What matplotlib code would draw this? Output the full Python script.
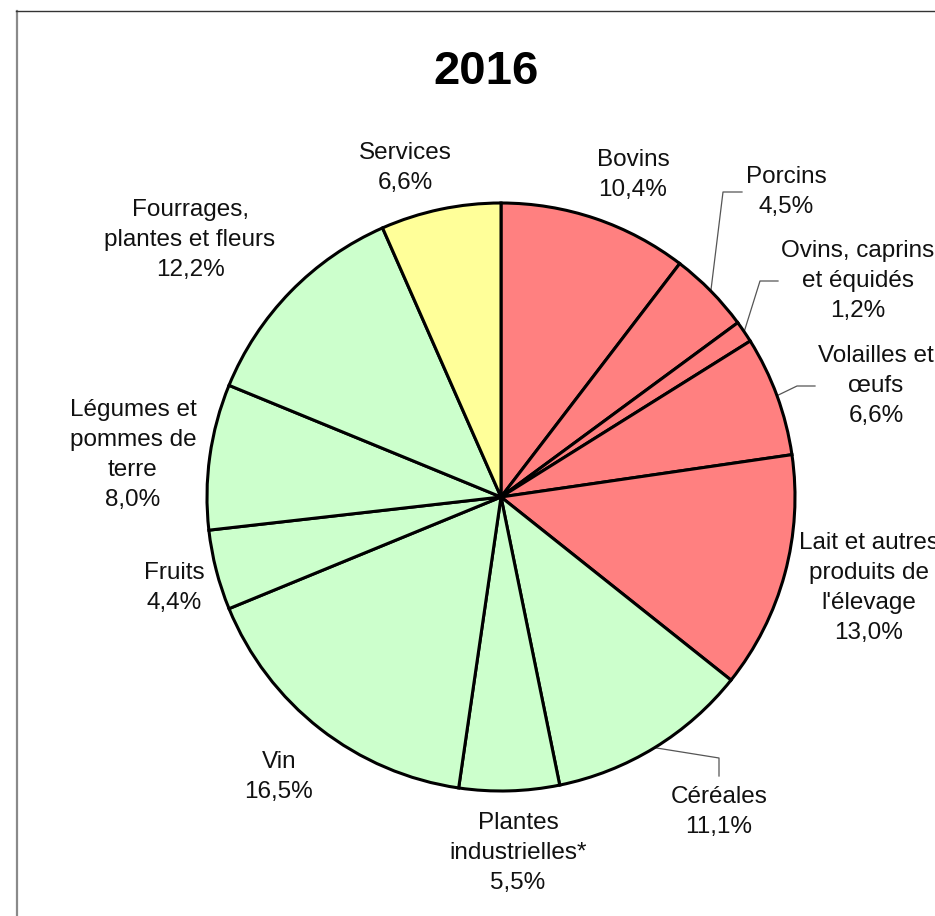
import matplotlib
matplotlib.use("Agg")
import matplotlib.pyplot as plt
import numpy as np
from matplotlib.lines import Line2D

categories = ["Bovins", "Porcins", "Ovins, caprins\net équidés", "Volailles et\nœufs",
              "Lait et autres\nproduits de\nl'élevage", "Céréales", "Plantes\nindustrielles*",
              "Vin", "Fruits", "Légumes et\npommes de\nterre", "Fourrages,\nplantes et fleurs",
              "Services"]
values = [10.4, 4.5, 1.2, 6.6, 13.0, 11.1, 5.5, 16.5, 4.4, 8.0, 12.2, 6.6]
groups = ["anim"] * 5 + ["veg"] * 6 + ["serv"]
group_colors = {"anim": "#FF8080", "veg": "#CCFFCC", "serv": "#FFFF99"}
title = "2016"

W, H = 935, 916
fig = plt.figure(figsize=(W / 100, H / 100), dpi=100)
ax = fig.add_axes([0, 0, 1, 1])

cx, cy, R = 501, H - 497, 294
colors = [group_colors[g] for g in groups]
wedges, _ = ax.pie(values, colors=colors, startangle=90, counterclock=False,
                   center=(cx, cy), radius=R,
                   wedgeprops=dict(edgecolor="black", linewidth=2.2))
ax.set_xlim(0, W)
ax.set_ylim(0, H)
ax.set_aspect("equal")
ax.axis("off")

# label positions (pixel coords, y from top) : center of text block
label_pos = {
    0: (633, 175),
    1: (786, 192),
    2: (858, 281),
    3: (876, 386),
    4: (869, 588),
    5: (719, 812),
    6: (518, 853),
    7: (279, 777),
    8: (174, 588),
    9: (133, 455),
    10: (190, 240),
    11: (405, 168),
}
font = "Liberation Sans"
for i, (cat, v) in enumerate(zip(categories, values)):
    x, y = label_pos[i]
    txt = cat + "\n" + f"{v:.1f}".replace(".", ",") + "%"
    ax.text(x, H - y, txt, ha="center", va="center", fontsize=17.5,
            family=font, linespacing=1.47, color="#111111")

# leader lines for small slices
leaders = {
    1: [(723, 192), (742, 192)],
    2: [(760, 281), (778, 281)],
    3: [(797, 386), (815, 386)],
    5: [(719, 758), (719, 776)],
}
cum = np.cumsum([0] + values)
tot = sum(values)
for i, pts in leaders.items():
    mid = (cum[i] + values[i] / 2) / tot * 360.0
    a = np.deg2rad(90 - mid)
    x0 = cx + R * np.cos(a)
    y0 = cy + R * np.sin(a)
    xs = [x0] + [p[0] for p in pts]
    ys = [y0] + [H - p[1] for p in pts]
    ax.plot(xs, ys, color="#555555", lw=0.9, zorder=0.5)

ax.text(486, H - 72, title, ha="center", va="center", fontsize=34,
        fontweight="bold", family=font)

# frame
fig.add_artist(Line2D([16.5 / W, 16.5 / W], [0, 1 - 11 / H], color="#8a8a8a", lw=1.6,
                      transform=fig.transFigure))
fig.add_artist(Line2D([16 / W, 1], [1 - 11 / H, 1 - 11 / H], color="#333333", lw=1.0,
                      transform=fig.transFigure))

fig.savefig("out.png", dpi=100)
